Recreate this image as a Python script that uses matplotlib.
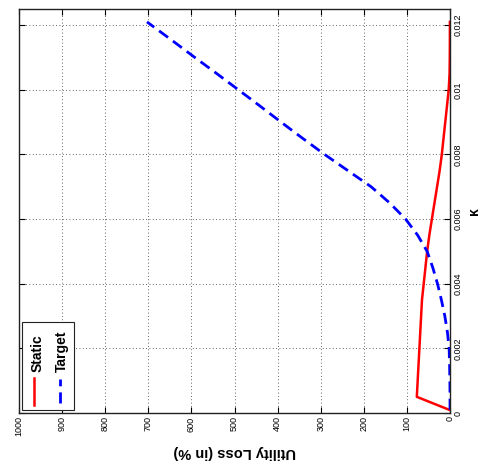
import numpy as np
import matplotlib
matplotlib.use('Agg')
import matplotlib.pyplot as plt
from matplotlib.patches import Rectangle

plt.rcParams['font.family'] = ['Liberation Sans', 'DejaVu Sans']

# kappa grid
kappa = [0.0001, 0.0005, 0.001, 0.0015, 0.002, 0.0025, 0.003, 0.0035, 0.004,
         0.0045, 0.005, 0.0055, 0.006, 0.0065, 0.007, 0.0075, 0.008, 0.0085,
         0.009, 0.0095, 0.01, 0.0105, 0.011, 0.0115, 0.0121]
# utility loss in %
static = [2, 77, 75, 73, 71, 69, 67, 65, 61, 57, 53, 48, 42, 36, 30, 24, 19,
          15, 11, 7, 3, 1, 0.5, 0.3, 0.2]
target = [0, 0, 0.3, 1, 2, 6, 12, 20, 29, 40, 53, 75, 103, 140, 183, 237, 291,
          342, 392, 441, 491, 541, 592, 642, 703]

loss_ticks = list(range(0, 1001, 100))
kappa_ticks = [0, 0.002, 0.004, 0.006, 0.008, 0.01, 0.012]
kappa_labels = ['0', '0.002', '0.004', '0.006', '0.008', '0.01', '0.012']

W, H = 482, 468
fig = plt.figure(figsize=(W / 100, H / 100), dpi=100)
ax = fig.add_axes([19 / W, 1 - 413 / H, 431 / W, 404 / H])

# plot rotated: loss on horizontal (reversed), kappa on vertical
ax.plot(static, kappa, color='red', lw=1.8)
ax.plot(target, kappa, color='blue', lw=2.0, linestyle=(0, (4, 2.2)))

ax.set_xlim(1000, 0)
ax.set_ylim(0, 0.0125)
ax.set_xticks(loss_ticks)
ax.set_xticklabels([str(t) for t in loss_ticks], rotation=90)
ax.set_yticks(kappa_ticks)
ax.set_yticklabels(kappa_labels, rotation=90, va='center')

ax.tick_params(direction='in', length=4, width=0.8, labelsize=6.5,
               top=True, bottom=True, left=True, right=True,
               labelleft=False, labelright=True, pad=2.5)
ax.grid(True, color='#333333', linestyle=(0, (1, 3)), linewidth=0.6)
for s in ax.spines.values():
    s.set_linewidth(1.0)
    s.set_color('#222222')

ax.set_xlabel('Utility Loss (in %)', rotation=180, fontsize=10.5,
              fontweight='bold', labelpad=6)
ax.yaxis.set_label_position('right')
ax.set_ylabel('\u03ba', rotation=90, fontsize=10, fontweight='bold',
              labelpad=3)

# rotated legend box (lower left)
ax.add_patch(Rectangle((0.007, 0.007), 0.121, 0.218, transform=ax.transAxes,
                       facecolor='white', edgecolor='#222222', lw=0.8,
                       zorder=5))
ax.plot([0.035, 0.035], [0.02, 0.087], color='red', lw=1.8,
        transform=ax.transAxes, zorder=6)
ax.plot([0.095, 0.095], [0.025, 0.085], color='blue', lw=2.0,
        linestyle=(0, (4, 2.2)), transform=ax.transAxes, zorder=6)
ax.text(0.042, 0.101, 'Static', rotation=90, ha='center', va='bottom',
        fontsize=10, fontweight='bold', transform=ax.transAxes, zorder=6)
ax.text(0.100, 0.101, 'Target', rotation=90, ha='center', va='bottom',
        fontsize=10, fontweight='bold', transform=ax.transAxes, zorder=6)

fig.savefig('out.png', dpi=100)
